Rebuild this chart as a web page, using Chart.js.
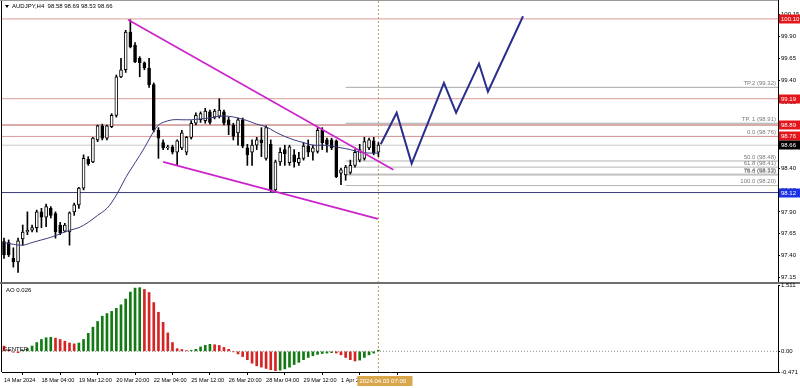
<!DOCTYPE html>
<html>
<head>
<meta charset="utf-8">
<title>AUDJPY,H4</title>
<script src="https://cdn.jsdelivr.net/npm/chart.js@4.4.1/dist/chart.umd.min.js"></script>
<style>
  html, body { margin: 0; padding: 0; background: #fff; }
  #wrap { position: relative; width: 800px; height: 388px; overflow: hidden; background: #fff; }
  #main { position: absolute; left: 0; top: 0; }
  #ao   { position: absolute; left: 0; top: 276px; }
</style>
</head>
<body>
<div id="wrap">
  <canvas id="main" width="800" height="284" style="width:800px;height:284px"></canvas>
  <canvas id="ao" width="800" height="112" style="width:800px;height:112px"></canvas>
</div>
<script>
/* ── Candles (H4, 14 Mar 20:00 → 3 Apr 04:00) ───────────── */
const OPEN  = [97.56,97.55,97.37,97.33,97.59,97.67,97.69,97.72,97.90,97.84,97.94,97.88,97.75,97.68,97.67,97.90,97.98,98.17,98.50,98.47,
               98.72,98.88,98.74,98.87,99.00,99.44,99.52,99.95,99.80,99.65,99.60,99.54,99.35,98.83,98.69,98.63,98.64,98.58,98.63,98.58,
               98.75,98.91,98.95,98.94,99.04,98.98,98.99,99.04,98.95,98.89,98.80,98.95,98.63,98.58,98.66,98.72,98.51,98.67,98.15,98.47,
               98.61,98.46,98.55,98.46,98.51,98.65,98.58,98.59,98.83,98.72,98.72,98.71,98.34,98.32,98.35,98.43,98.49,98.51,98.63,98.71,98.58];
const HIGH  = [97.60,97.58,97.49,97.60,97.75,97.90,97.75,97.92,97.94,97.99,97.96,97.90,97.78,97.77,97.90,98.00,98.18,98.55,98.53,98.75,
               98.89,98.90,98.89,99.02,99.46,99.65,99.97,100.09,99.83,99.67,99.61,99.65,99.37,98.86,98.72,98.66,98.66,98.72,98.83,98.76,
               98.94,99.03,99.04,99.08,99.06,99.07,99.19,99.06,98.98,98.91,98.97,98.97,98.67,98.72,98.75,98.86,98.88,98.72,98.49,98.63,
               98.66,98.66,98.61,98.58,98.69,98.72,98.66,98.86,98.86,98.74,98.74,98.72,98.40,98.43,98.49,98.61,98.67,98.75,98.74,98.75,98.69];
const LOW   = [97.37,97.39,97.27,97.21,97.52,97.64,97.67,97.67,97.72,97.73,97.83,97.60,97.64,97.67,97.52,97.86,97.94,98.15,98.43,98.46,
               98.70,98.72,98.72,98.86,98.98,99.43,99.49,99.77,99.60,99.44,99.52,99.32,98.81,98.51,98.61,98.61,98.56,98.43,98.61,98.55,
               98.73,98.89,98.92,98.91,98.90,98.96,98.97,98.89,98.78,98.72,98.66,98.63,98.43,98.43,98.61,98.53,98.49,98.13,98.13,98.43,
               98.43,98.43,98.41,98.43,98.49,98.53,98.49,98.57,98.61,98.58,98.61,98.29,98.21,98.26,98.33,98.41,98.47,98.49,98.61,98.55,98.53];
const CLOSE = [97.41,97.41,97.33,97.57,97.67,97.69,97.72,97.90,97.84,97.96,97.86,97.67,97.66,97.75,97.89,97.98,98.17,98.51,98.45,98.74,
               98.88,98.74,98.88,99.00,99.44,99.52,99.95,99.78,99.61,99.60,99.54,99.35,98.83,98.74,98.63,98.64,98.58,98.71,98.80,98.75,
               98.91,99.00,99.02,99.05,98.92,99.05,99.06,98.91,98.89,98.76,98.95,98.65,98.55,98.66,98.72,98.69,98.86,98.15,98.47,98.58,
               98.56,98.64,98.47,98.51,98.65,98.58,98.63,98.83,98.69,98.67,98.63,98.30,98.38,98.41,98.43,98.58,98.61,98.70,98.72,98.57,98.66];

/* moving average, read at every second bar */
const MA_IDX = [0,2,4,6,8,10,12,14,16,18,20,22,24,26,28,30,32,33,34,36,38,40,42,44,46,48,50,52,54,56,58,60,62,64,66,68,70,72,74,76,78,80];
const MA_VAL = [97.55,97.53,97.52,97.55,97.58,97.61,97.65,97.69,97.72,97.78,97.86,97.94,98.09,98.29,98.46,98.63,98.82,98.89,98.92,98.95,
                98.95,98.95,98.96,98.97,98.99,98.99,98.97,98.94,98.90,98.87,98.81,98.76,98.72,98.69,98.66,98.66,98.65,98.63,98.61,98.58,98.57,98.57];

/* Awesome Oscillator */
const AO = [0.12,0.03,-0.02,-0.03,0.02,0.06,0.12,0.20,0.27,0.31,0.32,0.30,0.27,0.23,0.19,0.17,0.19,0.27,0.41,0.55,
            0.68,0.80,0.86,0.91,0.98,1.06,1.19,1.35,1.44,1.45,1.41,1.34,1.11,0.89,0.66,0.42,0.20,0.06,0.04,0.015,
            0.02,0.045,0.10,0.135,0.16,0.15,0.135,0.09,0.045,-0.01,-0.06,-0.12,-0.19,-0.27,-0.33,-0.36,-0.39,-0.42,-0.44,-0.43,
            -0.40,-0.36,-0.30,-0.25,-0.19,-0.14,-0.10,-0.07,-0.05,-0.04,-0.03,-0.04,-0.08,-0.14,-0.19,-0.22,-0.20,-0.14,-0.08,-0.04,0.026];

/* Axis ticks */
const PRICE_TICKS = [100.15, 99.90, 99.65, 99.40, 99.15, 98.90, 98.65, 98.40, 98.15, 97.90, 97.65, 97.40, 97.15];
const AO_TICKS = [1.511, 0, -0.471];
const AO_TICK_LABELS = ['1.511', '0.00', '-0.471'];
const TIME_TICKS = [0, 8, 16, 24, 32, 40, 48, 56, 64, 72, 80];
const TIME_LABELS = ['14 Mar 2024', '18 Mar 04:00', '19 Mar 12:00', '20 Mar 20:00', '22 Mar 04:00', '25 Mar 12:00',
                     '26 Mar 20:00', '28 Mar 04:00', '29 Mar 12:00', '1 Apr 20:00', '3 Apr 04:00'];

/* Levels */
const RED_LEVELS = [100.10, 99.19, 98.89, 98.76];
const BID = 98.66;
const SUPPORT = 98.12;
const TP_VALUES = [99.32, 98.91];
const TP_LABELS = ['TP.2 (99.32)', 'TP. 1 (98.91)'];
const FIB_VALUES = [98.76, 98.48, 98.41, 98.33, 98.32, 98.20];
const FIB_LABELS = ['0.0 (98.76)', '50.0 (98.48)', '61.8 (98.41)', '76.4 (98.33)', '78.6 (98.32)', '100.0 (98.20)'];
const LEVEL_START = 73;

/* Wedge and projected path */
const UPPER_X = [26.5, 83.2],  UPPER_Y = [100.09, 98.38];
const LOWER_X = [34.0, 79.9],  LOWER_Y = [98.47, 97.82];
const PATH_X = [80.5, 83.9, 87.1, 94.0, 96.6, 101.5, 103.4, 110.9];
const PATH_Y = [98.67, 99.03, 98.45, 99.37, 99.03, 99.59, 99.27, 100.13];

/* ── View ─────────────────────────────────────────────── */
const X_MIN = -0.427, X_MAX = 165.38;
const Y_MIN = 97.0887, Y_MAX = 100.3157;
const AO_MIN = -0.471, AO_MAX = 1.511;
const LAST = CLOSE.length - 1;
const FONT = '"Liberation Sans", Arial, sans-serif';

Chart.defaults.font.family = FONT;
Chart.defaults.font.size = 6;
Chart.defaults.color = '#000';

const hline = (v, color, x0, dash, w) => ({
  type: 'line', data: [{ x: x0, y: v }, { x: X_MAX, y: v }],
  borderColor: color, borderWidth: w || 1, borderDash: dash || [], pointRadius: 0, order: 20
});
const seg = (xs, ys, color, w, order) => ({
  type: 'line', data: xs.map((x, i) => ({ x, y: ys[i] })),
  borderColor: color, borderWidth: w, pointRadius: 0, tension: 0, order
});
const bars = CLOSE.map((_, i) => i);
const bull = i => CLOSE[i] >= OPEN[i];

const noPad = s => { s.paddingTop = 0; s.paddingBottom = 0; s.paddingLeft = 0; s.paddingRight = 0; };

/* text and price boxes */
const mainOverlay = {
  id: 'mainOverlay',
  afterDraw(chart) {
    const { ctx, chartArea: a, scales: { y } } = chart;
    ctx.save();
    // frame
    ctx.strokeStyle = '#000'; ctx.lineWidth = 1;
    ctx.beginPath(); ctx.moveTo(a.left - 0.5, 0); ctx.lineTo(a.left - 0.5, 284); ctx.stroke();
    ctx.strokeStyle = '#9a9a9a';
    ctx.beginPath(); ctx.moveTo(0, 0.5); ctx.lineTo(a.right, 0.5); ctx.stroke();
    ctx.strokeStyle = '#6e6e6e'; ctx.lineWidth = 2;
    ctx.beginPath(); ctx.moveTo(0, 283); ctx.lineTo(800, 283); ctx.stroke();

    // title
    ctx.fillStyle = '#000';
    ctx.beginPath(); ctx.moveTo(5, 5); ctx.lineTo(9, 5); ctx.lineTo(7, 8); ctx.closePath(); ctx.fill();
    ctx.font = '6px ' + FONT; ctx.textBaseline = 'middle'; ctx.textAlign = 'left';
    ctx.fillText('AUDJPY,H4  98.58 98.69 98.53 98.66', 12, 6.5);

    // level captions
    ctx.fillStyle = '#7a7a7a'; ctx.textAlign = 'right'; ctx.font = '6px ' + FONT;
    TP_VALUES.forEach((v, i) => ctx.fillText(TP_LABELS[i], a.right - 2, y.getPixelForValue(v) - 4));
    FIB_VALUES.forEach((v, i) => ctx.fillText(FIB_LABELS[i], a.right - 2, y.getPixelForValue(v) - 4));

    // price boxes on the axis
    const box = (v, bg) => {
      const py = Math.round(y.getPixelForValue(v));
      ctx.fillStyle = bg; ctx.fillRect(a.right + 1, py - 4.5, 22, 9);
      ctx.fillStyle = '#fff'; ctx.textAlign = 'left'; ctx.font = '6px ' + FONT;
      ctx.fillText(v.toFixed(2), a.right + 3, py);
    };
    RED_LEVELS.forEach(v => box(v, '#e3161c'));
    box(BID, '#000');
    box(SUPPORT, '#1b32e6');
    ctx.restore();
  }
};

new Chart(document.getElementById('main'), {
  type: 'bar',
  data: {
    datasets: [
      ...RED_LEVELS.map((v, i) => hline(v, i === 2 ? '#b35a5a' : '#dc9a9a', X_MIN)),
      hline(BID, '#c8c8c8', X_MIN),
      hline(SUPPORT, '#3c3c7c', X_MIN),
      ...TP_VALUES.map(v => hline(v, '#a8a8a8', LEVEL_START)),
      ...FIB_VALUES.map(v => hline(v, '#b4b4b4', LEVEL_START)),
      {
        type: 'line', data: [{ x: LAST, y: Y_MIN }, { x: LAST, y: Y_MAX }],
        borderColor: '#c09a60', borderWidth: 1, borderDash: [2, 2], pointRadius: 0, order: 19
      },
      {
        type: 'bar', data: bars.map(i => ({ x: i, y: [LOW[i], HIGH[i]] })),
        backgroundColor: '#000', barThickness: 1, grouped: false, order: 8
      },
      {
        type: 'bar', data: bars.map(i => ({ x: i, y: [OPEN[i], CLOSE[i]] })),
        backgroundColor: c => bull(c.dataIndex) ? '#fff' : '#000',
        borderColor: '#000', borderWidth: 1, borderSkipped: false,
        barThickness: 3, grouped: false, minBarLength: 1, order: 7
      },
      {
        type: 'line', data: MA_IDX.map((x, i) => ({ x, y: MA_VAL[i] })),
        borderColor: '#3a3a80', borderWidth: 1, pointRadius: 0, tension: 0.35, order: 6
      },
      seg(UPPER_X, UPPER_Y, '#cc22cc', 1.6, 3),
      seg(LOWER_X, LOWER_Y, '#cc22cc', 1.6, 3),
      seg(PATH_X, PATH_Y, '#2a2f8e', 2, 2)
    ]
  },
  options: {
    responsive: false, animation: false, events: [],
    layout: { padding: { left: 2, right: 0, top: 0, bottom: 1 } },
    plugins: { legend: { display: false }, tooltip: { enabled: false } },
    scales: {
      x: { type: 'linear', min: X_MIN, max: X_MAX, offset: false, display: false },
      y: {
        position: 'right', min: Y_MIN, max: Y_MAX,
        afterBuildTicks: s => { s.ticks = PRICE_TICKS.map(value => ({ value })); },
        afterFit: s => { s.width = 22; noPad(s); },
        grid: { drawOnChartArea: false, tickLength: 2, color: '#000' },
        border: { display: true, color: '#000' },
        ticks: { padding: 1, font: { size: 6 }, color: '#000', callback: v => v.toFixed(2) }
      }
    }
  },
  plugins: [mainOverlay]
});

/* ── AO panel ─────────────────────────────────────────── */
const aoOverlay = {
  id: 'aoOverlay',
  afterDraw(chart) {
    const { ctx, chartArea: a, scales: { x } } = chart;
    ctx.save();
    ctx.strokeStyle = '#000'; ctx.lineWidth = 1;
    ctx.beginPath(); ctx.moveTo(a.left - 0.5, a.top - 1); ctx.lineTo(a.left - 0.5, a.bottom); ctx.stroke();
    ctx.fillStyle = '#000'; ctx.font = '6px ' + FONT; ctx.textAlign = 'left'; ctx.textBaseline = 'middle';
    ctx.fillText('AO 0.026', 6, a.top + 5);
    ctx.fillText('GENTER', 3, 73);
    // time cursor box
    const px = x.getPixelForValue(LAST);
    ctx.fillStyle = '#d9a64c';
    ctx.fillRect(px - 21, a.bottom + 4, 55, 10);
    ctx.fillStyle = '#fff';
    ctx.fillText('2024.04.03 07:00', px - 19, a.bottom + 9);
    ctx.restore();
  }
};

new Chart(document.getElementById('ao'), {
  type: 'bar',
  data: {
    datasets: [
      {
        type: 'line', data: [{ x: X_MIN, y: 0 }, { x: X_MAX, y: 0 }],
        borderColor: '#8c8c8c', borderWidth: 1, borderDash: [1, 2], pointRadius: 0, order: 10
      },
      {
        type: 'line', data: [{ x: LAST, y: AO_MIN }, { x: LAST, y: AO_MAX + 0.3 }],
        borderColor: '#c09a60', borderWidth: 1, borderDash: [2, 2], pointRadius: 0, order: 9
      },
      {
        type: 'bar', data: AO.map((v, i) => ({ x: i, y: v })),
        backgroundColor: c => (c.dataIndex > 0 && AO[c.dataIndex] > AO[c.dataIndex - 1]) ? '#127a12' : '#d42424',
        barThickness: 2, grouped: false, order: 1
      }
    ]
  },
  options: {
    responsive: false, animation: false, events: [],
    layout: { padding: { left: 2, right: 0, top: 9, bottom: 0 } },
    plugins: { legend: { display: false }, tooltip: { enabled: false } },
    scales: {
      x: {
        type: 'linear', min: X_MIN, max: X_MAX, offset: false, position: 'bottom',
        afterBuildTicks: s => { s.ticks = TIME_TICKS.map(value => ({ value })); },
        afterFit: s => { s.height = 16; noPad(s); },
        grid: { drawOnChartArea: false, tickLength: 3, color: '#000' },
        border: { display: true, color: '#000' },
        ticks: {
          align: 'start', autoSkip: false, maxRotation: 0, padding: 2, font: { size: 5.6 }, color: '#000',
          callback: v => TIME_LABELS[TIME_TICKS.indexOf(v)]
        }
      },
      y: {
        position: 'right', min: AO_MIN, max: AO_MAX,
        afterBuildTicks: s => { s.ticks = AO_TICKS.map(value => ({ value })); },
        afterFit: s => { s.width = 22; noPad(s); },
        grid: { drawOnChartArea: false, tickLength: 2, color: '#000' },
        border: { display: true, color: '#000' },
        ticks: { padding: 1, font: { size: 6 }, color: '#000', callback: v => AO_TICK_LABELS[AO_TICKS.indexOf(v)] }
      }
    }
  },
  plugins: [aoOverlay]
});
</script>
</body>
</html>
